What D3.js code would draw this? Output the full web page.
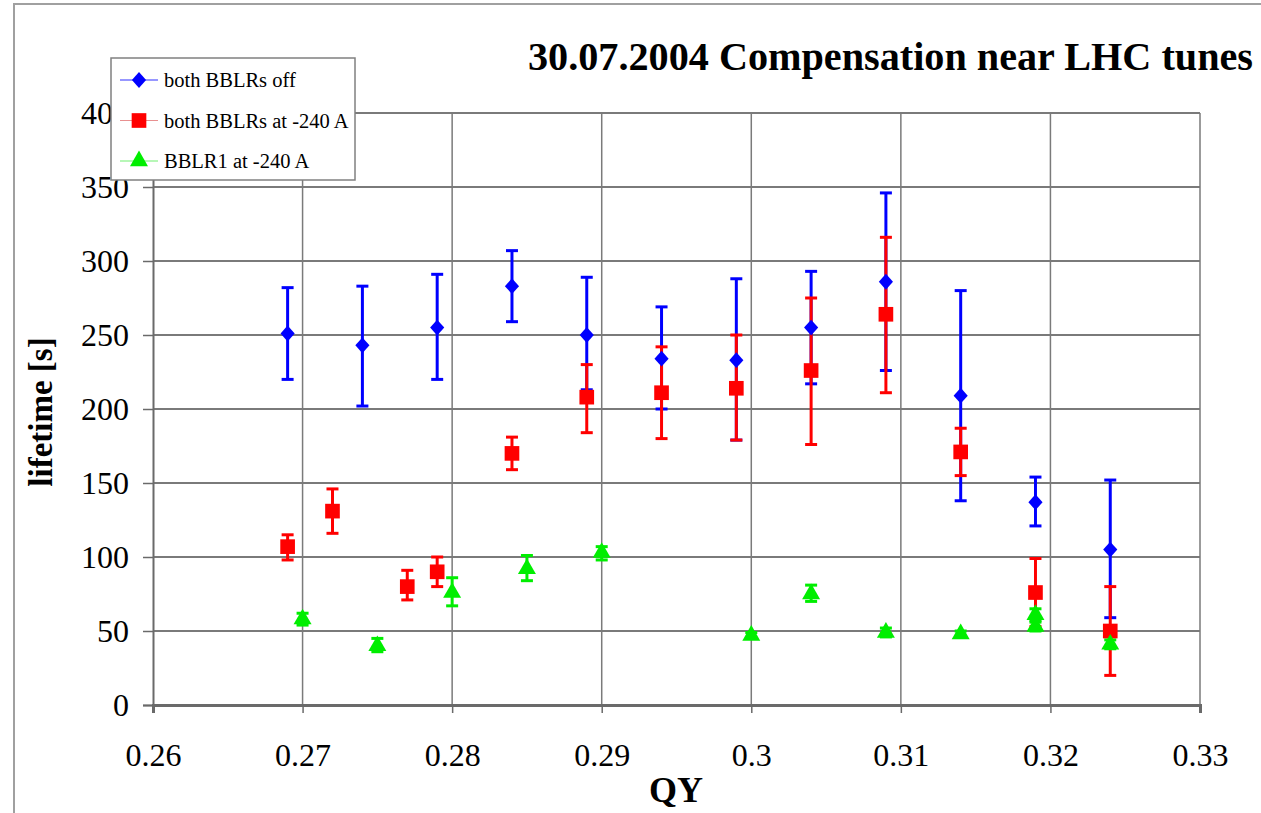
<!DOCTYPE html>
<html>
<head>
<meta charset="utf-8">
<script src="https://cdn.jsdelivr.net/npm/d3@7"></script>
<style>
	body { margin: 0; background: #fff; }
	svg { display: block; }
	text { font-family: "Liberation Serif", "Times New Roman", serif; fill: #000; }
</style>
</head>
<body>
<svg width="1261" height="813"></svg>
<script>
// tune QY for each series
var qOff = [0.269, 0.274, 0.279, 0.284, 0.289, 0.294, 0.299, 0.304, 0.309, 0.314, 0.319, 0.324];
var lifeOff = [251, 243, 255, 283, 250, 234, 233, 255, 286, 209, 137, 105];
var hiOff = [282, 283, 291, 307, 289, 269, 288, 293, 346, 280, 154, 152];
var loOff = [220, 202, 220, 259, 213, 200, 179, 217, 226, 138, 121, 59];

var qBoth = [0.269, 0.272, 0.277, 0.279, 0.284, 0.289, 0.294, 0.299, 0.304, 0.309, 0.314, 0.319, 0.324];
var lifeBoth = [107, 131, 80, 90, 170, 208, 211, 214, 226, 264, 171, 76, 50];
var hiBoth = [115, 146, 91, 100, 181, 230, 242, 250, 275, 316, 187, 99, 80];
var loBoth = [98, 116, 71, 80, 159, 184, 180, 179, 176, 211, 155, 53, 20];

var qOne = [0.270, 0.275, 0.280, 0.285, 0.290, 0.300, 0.304, 0.309, 0.314, 0.319, 0.319, 0.324];
var lifeOne = [58, 40, 76, 92, 103, 47, 75, 49, 48, 61, 53, 41];
var hiOne = [62, 45, 86, 101, 107, 49, 81, 52, 50, 65, 56, 44];
var loOne = [54, 36, 67, 84, 98, 45, 70, 46, 46, 57, 50, 38];

var xTicks = [0.26, 0.27, 0.28, 0.29, 0.3, 0.31, 0.32, 0.33];
var yTicks = [0, 50, 100, 150, 200, 250, 300, 350, 400];

var seriesNames = ["both BBLRs off", "both BBLRs at -240 A", "BBLR1 at -240 A"];

function pack(q, v, hi, lo) {
	return q.map(function(d, i) { return {q: d, v: v[i], hi: hi[i], lo: lo[i]}; });
}

// diamond = square turned by 45 degrees, a little taller than wide
var series = [
	{name: seriesNames[0], color: "#0000ff", line: "#3030ff", shape: d3.symbolSquare, size: 100, tf: " scale(1,1.12) rotate(45)", data: pack(qOff, lifeOff, hiOff, loOff)},
	{name: seriesNames[1], color: "#ff0000", line: "#e89090", shape: d3.symbolSquare, size: 215, tf: "", data: pack(qBoth, lifeBoth, hiBoth, loBoth)},
	{name: seriesNames[2], color: "#00ee00", line: "#70f070", shape: d3.symbolTriangle, size: 140, tf: "", data: pack(qOne, lifeOne, hiOne, loOne)}
];

var svg = d3.select("svg");

var x = d3.scaleLinear().domain([0.26, 0.33]).range([153, 1200]);
var y = d3.scaleLinear().domain([0, 400]).range([705, 113]);

// outer frame
svg.append("path")
	.attr("d", "M14,813V4H1261")
	.attr("fill", "none")
	.attr("stroke", "#a0a0a0")
	.attr("stroke-width", 2);

// grid
var grid = svg.append("g").attr("class", "grid");
grid.selectAll(".gy").data(yTicks.slice(1)).enter().append("line")
	.attr("x1", x(0.26)).attr("x2", x(0.33))
	.attr("y1", function(d) { return y(d); }).attr("y2", function(d) { return y(d); })
	.attr("stroke", "#7a7a7a").attr("stroke-width", 2);
grid.selectAll(".gx").data(xTicks.slice(1)).enter().append("line")
	.attr("x1", function(d) { return x(d); }).attr("x2", function(d) { return x(d); })
	.attr("y1", y(400)).attr("y2", y(0))
	.attr("stroke", "#7a7a7a").attr("stroke-width", 1.5);

// axes
var xAxis = svg.append("g")
	.attr("transform", "translate(0," + y(0) + ")")
	.call(d3.axisBottom(x).tickValues(xTicks).tickFormat(d3.format("")).tickSize(8).tickPadding(30));
var yAxis = svg.append("g")
	.attr("transform", "translate(" + x(0.26) + ",0)")
	.call(d3.axisLeft(y).tickValues(yTicks).tickSize(10).tickPadding(14));
[xAxis, yAxis].forEach(function(a) {
	a.attr("font-family", null).attr("font-size", null);
	a.select(".domain").attr("stroke", "#6a6a6a").attr("stroke-width", 2);
	a.selectAll(".tick line").attr("stroke", "#6a6a6a").attr("stroke-width", 1.5);
	a.selectAll("text")
		.style("font-family", "'Liberation Serif', 'Times New Roman', serif")
		.style("font-size", "32px")
		.attr("fill", "#000");
});
xAxis.select(".domain").attr("stroke-width", 3);

// error bars first, then markers on top
var bars = svg.append("g").attr("class", "errorbars");
series.forEach(function(s) {
	var g = bars.append("g");
	g.selectAll(".stem").data(s.data).enter().append("line")
		.attr("x1", function(d) { return x(d.q); }).attr("x2", function(d) { return x(d.q); })
		.attr("y1", function(d) { return y(d.hi); }).attr("y2", function(d) { return y(d.lo); })
		.attr("stroke", s.color).attr("stroke-width", 3);
	["hi", "lo"].forEach(function(k) {
		g.selectAll(".cap-" + k).data(s.data).enter().append("line")
			.attr("x1", function(d) { return x(d.q) - 6; }).attr("x2", function(d) { return x(d.q) + 6; })
			.attr("y1", function(d) { return y(d[k]); }).attr("y2", function(d) { return y(d[k]); })
			.attr("stroke", s.color).attr("stroke-width", 3);
	});
});

var marks = svg.append("g").attr("class", "markers");
series.forEach(function(s) {
	marks.append("g").selectAll("path").data(s.data).enter().append("path")
		.attr("d", d3.symbol().type(s.shape).size(s.size))
		.attr("transform", function(d) { return "translate(" + x(d.q) + "," + y(d.v) + ")" + s.tf; })
		.attr("fill", s.color);
});

// titles
svg.append("text")
	.attr("x", 1253).attr("y", 70)
	.attr("text-anchor", "end")
	.attr("font-size", 40).attr("font-weight", "bold")
	.attr("textLength", 725).attr("lengthAdjust", "spacingAndGlyphs")
	.text("30.07.2004 Compensation near LHC tunes");

svg.append("text")
	.attr("x", 676).attr("y", 802)
	.attr("text-anchor", "middle")
	.attr("font-size", 36).attr("font-weight", "bold")
	.text("QY");

svg.append("text")
	.attr("transform", "translate(52,412) rotate(-90)")
	.attr("text-anchor", "middle")
	.attr("font-size", 33).attr("font-weight", "bold")
	.text("lifetime [s]");

// legend
var legend = svg.append("g").attr("transform", "translate(111,58)");
legend.append("rect")
	.attr("width", 244).attr("height", 122)
	.attr("fill", "#fff").attr("stroke", "#808080").attr("stroke-width", 1.5);
series.forEach(function(s, i) {
	var row = legend.append("g").attr("transform", "translate(0," + (22 + i * 40.5) + ")");
	row.append("line").attr("x1", 9).attr("x2", 47).attr("stroke", s.line).attr("stroke-width", 1.2);
	row.append("path")
		.attr("d", d3.symbol().type(s.shape).size(s.size))
		.attr("transform", "translate(28,0)" + s.tf)
		.attr("fill", s.color);
	row.append("text").attr("x", 53).attr("y", 7)
		.attr("font-size", 20.5)
		.text(s.name);
});
</script>
</body>
</html>
